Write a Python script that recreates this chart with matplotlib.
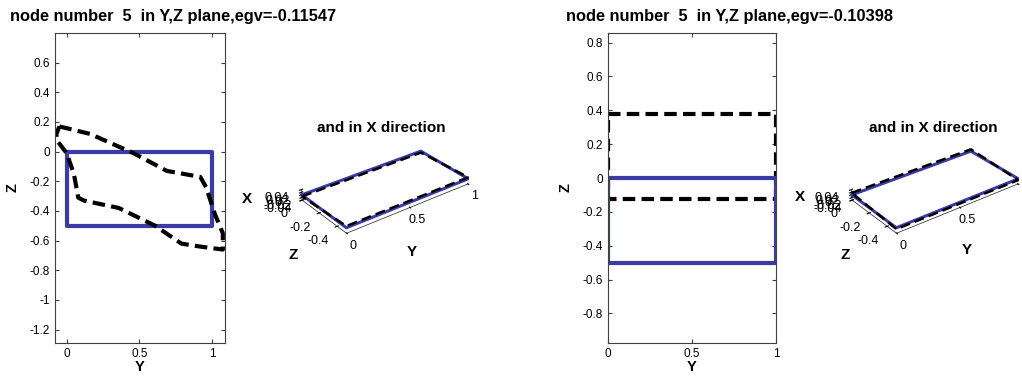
"""
Mode shape plots: Y,Z plane view and X direction view for two eigenvalues
"""
import matplotlib
matplotlib.use('Agg')
import matplotlib.pyplot as plt

plt.rcParams['font.family'] = ['Liberation Sans', 'DejaVu Sans']

# undeformed section outline (Y, Z)
rect_y = [0, 1, 1, 0, 0]
rect_z = [0, 0, -0.5, -0.5, 0]
rect_x = [0, 0, 0, 0, 0]

# mode 1 (egv=-0.11547): deformed outline in the Y,Z plane
mode1_y = [-0.05, 0.16, 0.46, 0.69, 0.92, 0.96, 1.02, 1.075, 1.075, 0.92,
           0.79, 0.61, 0.36, 0.12, 0.08, 0.05, 0.0, -0.07, -0.07, -0.05]
mode1_z = [0.17, 0.12, -0.01, -0.13, -0.17, -0.24, -0.42, -0.55, -0.66, -0.64,
           -0.62, -0.50, -0.38, -0.33, -0.31, -0.15, -0.01, 0.08, 0.12, 0.17]
mode1_x = [-0.012, -0.012, 0.012, 0.012, -0.012]

# mode 2 (egv=-0.10398)
mode2_y = [0, 1, 1, 0, 0]
mode2_z = [0.38, 0.38, -0.125, -0.125, 0.38]
mode2_x = [0.015, 0.015, -0.01, -0.01, 0.015]

titles = ['node number  5  in Y,Z plane,egv=-0.11547',
          'node number  5  in Y,Z plane,egv=-0.10398']

BLUE = '#3b3ba6'
W, H = 1022, 382

fig = plt.figure(figsize=(W / 100, H / 100), dpi=100)


def px_rect(x0, y0, x1, y1):
    return [x0 / W, 1 - y1 / H, (x1 - x0) / W, (y1 - y0) / H]


def label(x, y, s, size=11):
    fig.text(x / W, 1 - y / H, s, fontweight='bold', fontsize=size,
             ha='center', va='center')


def style_2d(ax):
    for s in ax.spines.values():
        s.set_color('#404040')
        s.set_linewidth(0.8)
    ax.tick_params(direction='in', top=True, right=True, labelsize=8.5,
                   length=3, color='#404040')
    ax.set_xlabel('Y', fontweight='bold', fontsize=10.5, labelpad=0)
    ax.set_ylabel('Z', fontweight='bold', fontsize=10.5, labelpad=7)


def plot_3d(rect, mode_x):
    ax = fig.add_axes(rect, projection='3d')
    ax.patch.set_facecolor('none')
    ax.plot(rect_y, rect_z, rect_x, color=BLUE, lw=2.2)
    ax.plot(rect_y, rect_z, mode_x, color='k', ls='--', lw=1.8, dashes=(4, 2))
    ax.view_init(elev=30, azim=-127.5)
    ax.set_xlim(0, 1)
    ax.set_ylim(-0.5, 0)
    ax.set_zlim(-0.04, 0.04)
    ax.set_box_aspect((1, 0.5, 0.08), zoom=0.97)
    ax.set_xticks([0, 0.5, 1])
    ax.set_xticklabels(['0', '0.5', '1'])
    ax.set_yticks([-0.4, -0.2, 0])
    ax.set_yticklabels(['-0.4', '-0.2', '0'])
    ax.set_zticks([-0.04, -0.02, 0, 0.02, 0.04])
    ax.set_zticklabels(['-0.04', '-0.02', '0', '0.02', '0.04'])
    ax.grid(False)
    for axis in (ax.xaxis, ax.yaxis, ax.zaxis):
        axis.set_pane_color((1, 1, 1, 0))
        axis.pane.set_edgecolor((1, 1, 1, 0))
        axis.line.set_color('#404040')
        axis.line.set_linewidth(0.6)
    ax.tick_params(labelsize=9, pad=1)
    return ax


# left pair
ax1 = fig.add_axes(px_rect(55, 33, 225, 343))
ax1.plot(rect_y, rect_z, color=BLUE, lw=3)
ax1.plot(mode1_y, mode1_z, color='k', ls='--', lw=3, dashes=(3, 1.5))
ax1.set_xlim(-0.08, 1.09)
ax1.set_ylim(-1.29, 0.8)
ax1.set_xticks([0, 0.5, 1])
ax1.set_xticklabels(['0', '0.5', '1'])
ax1.set_yticks([-1.2, -1, -0.8, -0.6, -0.4, -0.2, 0, 0.2, 0.4, 0.6])
ax1.set_yticklabels(['-1.2', '-1', '-0.8', '-0.6', '-0.4', '-0.2', '0',
                     '0.2', '0.4', '0.6'])
style_2d(ax1)
fig.text(10 / W, 1 - 16 / H, titles[0], fontweight='bold', fontsize=11.8,
         va='center', ha='left')

plot_3d(px_rect(254, 104, 514, 274), mode1_x)
label(381, 128, 'and in X direction')
label(247, 199, 'X')
label(293, 255, 'Z')
label(412, 252, 'Y')

# right pair
ax2 = fig.add_axes(px_rect(608, 33, 776, 343))
ax2.plot(mode2_y, mode2_z, color='k', ls='--', lw=3, dashes=(3, 1.5))
ax2.plot(rect_y, rect_z, color=BLUE, lw=3)
ax2.set_xlim(0, 1)
ax2.set_ylim(-0.975, 0.857)
ax2.set_xticks([0, 0.5, 1])
ax2.set_xticklabels(['0', '0.5', '1'])
ax2.set_yticks([-0.8, -0.6, -0.4, -0.2, 0, 0.2, 0.4, 0.6, 0.8])
ax2.set_yticklabels(['-0.8', '-0.6', '-0.4', '-0.2', '0', '0.2', '0.4',
                     '0.6', '0.8'])
style_2d(ax2)
fig.text(566 / W, 1 - 16 / H, titles[1], fontweight='bold', fontsize=11.8,
         va='center', ha='left')

plot_3d(px_rect(804, 104, 1064, 274), mode2_x)
label(933, 128, 'and in X direction')
label(800, 197, 'X')
label(845, 255, 'Z')
label(967, 250, 'Y')

fig.savefig('out.png', dpi=100)
plt.close(fig)
